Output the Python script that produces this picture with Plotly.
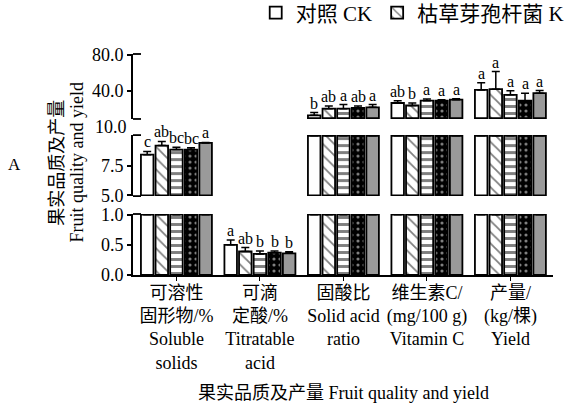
import plotly.graph_objects as go

# Fruit quality and yield under five treatments (means, SE and significance letters)
categories = [
    "可溶性<br>固形物/%<br>Soluble<br>solids",
    "可滴<br>定酸/%<br>Titratable<br>acid",
    "固酸比<br>Solid acid<br>ratio",
    "维生素C/<br>(mg/100 g)<br>Vitamin C",
    "产量/<br>(kg/棵)<br>Yield",
]
series_names = ["对照 CK", "枯草芽孢杆菌 K", "处理 3", "处理 4", "处理 5"]

ck_mean = [8.42, 0.50, 13.2, 26.8, 41.2]
k_mean = [9.18, 0.39, 20.5, 24.0, 42.0]
t3_mean = [8.85, 0.35, 20.5, 29.4, 35.8]
t4_mean = [8.85, 0.37, 21.5, 29.4, 29.4]
t5_mean = [9.40, 0.36, 22.0, 30.4, 37.6]

ck_err = [0.27, 0.08, 3.0, 2.5, 8.0]
k_err = [0.35, 0.065, 3.0, 2.9, 19.5]
t3_err = [0.19, 0.05, 4.5, 1.8, 4.6]
t4_err = [0.14, 0.03, 2.0, 1.0, 8.2]
t5_err = [0.05, 0.025, 3.0, 1.2, 2.9]

ck_sig = ["c", "a", "b", "ab", "a"]
k_sig = ["ab", "ab", "ab", "b", "a"]
t3_sig = ["bc", "b", "a", "a", "a"]
t4_sig = ["bc", "b", "ab", "a", "a"]
t5_sig = ["a", "b", "a", "a", "a"]

means = [ck_mean, k_mean, t3_mean, t4_mean, t5_mean]
errs = [ck_err, k_err, t3_err, t4_err, t5_err]
sigs = [ck_sig, k_sig, t3_sig, t4_sig, t5_sig]

# broken y axis: three segments, bottom to top
seg_axes = ["y", "y2", "y3"]
seg_ranges = [(0.0, 1.0), (5.0, 10.0), (10.0, 80.0)]
seg_domains = [(0.0, 0.276), (0.357, 0.633), (0.706, 1.0)]
seg_ticks = [([0, 0.5, 1.0], ["0.0", "0.5", "1.0"]),
             ([5, 7.5], ["5.0", "7.5"]),
             ([40, 80], ["40.0", "80.0"])]

styles = [
    dict(color="white", pattern=dict(shape="")),
    dict(color="white", pattern=dict(shape="\\", fgcolor="black", bgcolor="white", size=8, solidity=0.22)),
    dict(color="white", pattern=dict(shape="-", fgcolor="black", bgcolor="white", size=7, solidity=0.42)),
    dict(color="black", pattern=dict(shape=".", fgcolor="white", bgcolor="black", size=6, solidity=0.22)),
    dict(color="#9a9a9a", pattern=dict(shape="")),
]

pitch = 0.175
bar_w = 0.15
serif = "Liberation Serif, Noto Sans CJK SC"


def segment_of(v):
    for k, (lo, hi) in enumerate(seg_ranges):
        if lo < v <= hi:
            return k
    return len(seg_ranges) - 1


fig = go.Figure()
for s_idx, (ax, (lo, hi)) in enumerate(zip(seg_axes, seg_ranges)):
    for j in range(len(series_names)):
        xs = [i + (j - 2) * pitch for i in range(len(categories))]
        # each segment shows the part of the bar that falls inside its range
        lengths = [(min(v, hi) - lo) if v > lo else None for v in means[j]]
        e_up = [e if segment_of(v) == s_idx else None for v, e in zip(means[j], errs[j])]
        fig.add_trace(go.Bar(
            x=xs, y=lengths, base=lo, width=bar_w, name=series_names[j],
            xaxis="x", yaxis=ax,
            marker=dict(color=styles[j]["color"], pattern=styles[j]["pattern"],
                        line=dict(color="black", width=1.8)),
            error_y=dict(type="data", symmetric=False, array=e_up,
                         arrayminus=[0] * len(e_up), color="black",
                         thickness=1.5, width=4),
            showlegend=(s_idx == 2 and j < 2),
            legendrank=j,
        ))

annotations = []
for j in range(len(series_names)):
    for i in range(len(categories)):
        k = segment_of(means[j][i])
        annotations.append(dict(
            x=i + (j - 2) * pitch, y=means[j][i] + errs[j][i],
            xref="x", yref=seg_axes[k], text=sigs[j][i], showarrow=False,
            yanchor="bottom", xanchor="center", borderpad=0,
            font=dict(family=serif, size=16, color="black")))

txt = dict(family=serif, size=18, color="black")
# label shared by the middle and upper segments
annotations.append(dict(x=-0.01, y=0.67, xref="paper", yref="paper", text="10.0",
                        showarrow=False, xanchor="right", yanchor="middle", font=txt))
annotations += [
    dict(x=-0.18, y=0.51, xref="paper", yref="paper", text="果实品质及产量",
         textangle=-90, showarrow=False, xanchor="center", yanchor="middle", font=txt),
    dict(x=-0.133, y=0.51, xref="paper", yref="paper", text="Fruit quality and yield",
         textangle=-90, showarrow=False, xanchor="center", yanchor="middle", font=txt),
    dict(x=-0.281, y=0.50, xref="paper", yref="paper", text="A",
         showarrow=False, xanchor="center", yanchor="middle",
         font=dict(family=serif, size=17, color="black")),
    dict(x=0.5, y=-0.534, xref="paper", yref="paper",
         text="果实品质及产量 Fruit quality and yield",
         showarrow=False, xanchor="center", yanchor="middle", font=txt),
]

# short inward caps marking the ends of each axis segment
cap = 8 / 420
shapes = []
for ax, ends in zip(seg_axes, [(1,), (0, 1), (0, 1)]):
    for e in ends:
        shapes.append(dict(type="line", xref="paper", yref=f"{ax} domain",
                           x0=0, x1=cap, y0=e, y1=e,
                           line=dict(color="black", width=1.8)))

layout = dict(
    width=571, height=407,
    margin=dict(l=133, r=18, t=54, b=132, autoexpand=False),
    paper_bgcolor="white", plot_bgcolor="white",
    barmode="overlay",
    font=dict(family=serif, size=18, color="black"),
    xaxis=dict(range=[-0.52, 4.51], tickvals=list(range(len(categories))),
               ticktext=categories, showline=True, linecolor="black", linewidth=1.8,
               ticks="outside", ticklen=4, tickcolor="black", showgrid=False,
               zeroline=False, anchor="y", ticklabelstandoff=-4,
               tickfont=dict(family=serif, size=18, color="black")),
    showlegend=True,
    legend=dict(orientation="h", xref="container", yref="container",
                x=0.996, xanchor="right", y=0.968, yanchor="middle",
                font=dict(family=serif, size=21, color="black"),
                bgcolor="rgba(0,0,0,0)", traceorder="normal"),
    annotations=annotations, shapes=shapes,
)
for ax, (lo, hi), dom, (tv, tt) in zip(seg_axes, seg_ranges, seg_domains, seg_ticks):
    key = "yaxis" if ax == "y" else "yaxis" + ax[1:]
    pad = (hi - lo) * 0.012
    layout[key] = dict(range=[lo - (pad if lo > 0 else 0), hi + pad], domain=list(dom),
                       tickvals=tv, ticktext=tt,
                       showline=True, linecolor="black", linewidth=1.8,
                       ticks="outside", ticklen=4, tickcolor="black", tickwidth=1.5,
                       showgrid=False, zeroline=False, anchor="x",
                       tickfont=dict(family=serif, size=18, color="black"))

fig.update_layout(**layout)
fig.write_html("out.html")
